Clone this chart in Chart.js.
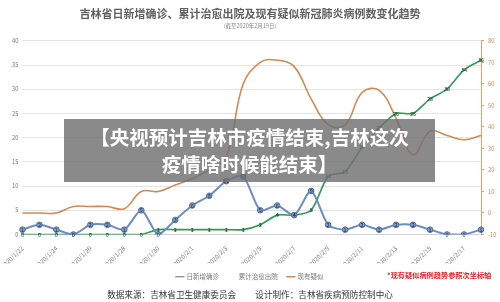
<!DOCTYPE html>
<html>
<head>
<meta charset="utf-8">
<script src="https://cdn.jsdelivr.net/npm/chart.js@4.4.0/dist/chart.umd.min.js"></script>
<style>
  html, body { margin: 0; padding: 0; background: #fff; }
  #wrap { position: relative; width: 500px; height: 302px; overflow: hidden; font-family: "Noto Sans CJK SC", sans-serif; }
  #note { position: absolute; left: 387px; top: 270px; font-size: 7.2px; font-weight: bold; color: #e0262b; white-space: nowrap; }
  #footer { position: absolute; left: 0; width: 500px; top: 288px; text-align: center; font-size: 8.6px; color: #333; white-space: nowrap; }
  #banner { position: absolute; left: 64px; top: 119px; width: 371px; height: 63px; background: rgba(112,112,112,0.82);
            color: #fff; font-weight: bold; font-size: 19.5px; line-height: 27px; text-align: center; padding-top: 4px; box-sizing: border-box; }
</style>
</head>
<body>
<div id="wrap">
  <canvas id="canvas-main" width="500" height="302"></canvas>
  <div id="banner">【央视预计吉林市疫情结束,吉林这次<br>疫情啥时候能结束】</div>
  <div id="note">*现有疑似病例趋势参照次坐标轴</div>
  <div id="footer">数据来源：吉林省卫生健康委员会&nbsp;&nbsp;&nbsp;&nbsp;&nbsp;&nbsp;&nbsp;&nbsp;&nbsp;&nbsp;设计制作：吉林省疾病预防控制中心</div>
</div>
<script>
const dates = ['2020/1/22', '2020/1/23', '2020/1/24', '2020/1/25', '2020/1/26', '2020/1/27', '2020/1/28',
               '2020/1/29', '2020/1/30', '2020/1/31', '2020/2/1', '2020/2/2', '2020/2/3', '2020/2/4',
               '2020/2/5', '2020/2/6', '2020/2/7', '2020/2/8', '2020/2/9', '2020/2/10', '2020/2/11',
               '2020/2/12', '2020/2/13', '2020/2/14', '2020/2/15', '2020/2/16', '2020/2/17', '2020/2/18'];
const newConfirmed = [1, 2, 1, 0, 2, 2, 1, 5, 0, 3, 6, 8, 11, 12, 5, 6, 4, 9, 2, 1, 2, 1, 2, 2, 1, 0, 0, 1];
const cured = [0, 0, 0, 0, 0, 0, 0, 0, 1, 1, 1, 1, 1, 1, 2, 4, 4, 5, 12, 13, 18, 22, 25, 25, 28, 30, 34, 36];
const suspected = [0, 0, 0, 3, 3, 3, 2, 10, 10, 13, 16, 20, 26, 60, 70, 71, 68, 53, 41, 41, 56, 57, 44, 27, 38, 36, 34, 36];
const seriesNames = ['日新增确诊', '累计治愈出院', '现有疑似'];

const FONT = '"Noto Sans CJK SC", sans-serif';

// draw the value on each blue / green point
const pointLabels = {
    id: 'pointLabels',
    afterDatasetsDraw(chart) {
        const ctx = chart.ctx;
        ctx.save();
        ctx.font = '5.5px ' + FONT;
        ctx.textAlign = 'center';
        ctx.textBaseline = 'middle';
        [0, 1].forEach(i => {
            const meta = chart.getDatasetMeta(i);
            ctx.fillStyle = i === 0 ? '#1d2c48' : '#2f3f35';
            meta.data.forEach((pt, j) => {
                ctx.fillText(chart.data.datasets[i].data[j], pt.x, pt.y);
            });
        });
        ctx.restore();
    }
};

const ctx = document.getElementById('canvas-main').getContext('2d');
const chart = new Chart(ctx, {
    type: 'line',
    data: {
        labels: dates,
        datasets: [{
            label: seriesNames[0],
            data: newConfirmed,
            yAxisID: 'y',
            borderColor: '#6c8dbd',
            backgroundColor: '#6c8dbd',
            borderWidth: 2,
            tension: 0.25,
            pointRadius: 2.8,
            pointBackgroundColor: '#7e9cc8',
            pointBorderColor: '#4d6c9c',
            pointBorderWidth: 1,
            order: 1
        }, {
            label: seriesNames[1],
            data: cured,
            yAxisID: 'y',
            borderColor: '#2f9a55',
            backgroundColor: '#2f9a55',
            borderWidth: 1.6,
            tension: 0.25,
            pointRadius: 1.4,
            pointBackgroundColor: '#2f9a55',
            pointBorderWidth: 0,
            order: 2
        }, {
            label: seriesNames[2],
            data: suspected,
            yAxisID: 'y1',
            borderColor: '#d08a55',
            backgroundColor: '#d08a55',
            borderWidth: 1.6,
            tension: 0.4,
            pointRadius: 0,
            order: 3
        }]
    },
    options: {
        responsive: false,
        animation: false,
        layout: { padding: { left: 0, right: 0, top: 0, bottom: 12 } },
        scales: {
            x: {
                afterFit: s => { s.height = 29; },
                grid: { display: false },
                border: { color: '#d0d0d0' },
                ticks: {
                    autoSkip: false,
                    maxRotation: 45,
                    minRotation: 45,
                    padding: 2,
                    color: '#777',
                    font: { size: 6.2, family: FONT },
                    callback: function(v, i) { return i % 2 === 0 ? this.getLabelForValue(v) : ''; }
                }
            },
            y: {
                position: 'left',
                min: 0,
                max: 40,
                afterFit: s => { s.width = 17; },
                border: { display: false },
                grid: { color: '#e3e3e3', drawTicks: false },
                ticks: { stepSize: 5, padding: 4, color: '#777', font: { size: 5.8, family: FONT } }
            },
            y1: {
                position: 'right',
                min: -10,
                max: 80,
                afterFit: s => { s.width = 19; },
                border: { color: '#e0a070', width: 1, dash: [2, 1] },
                grid: { drawOnChartArea: false, color: '#e0a070', tickLength: 3 },
                ticks: { stepSize: 10, padding: 4, color: '#d08a55', font: { size: 5.8, family: FONT } }
            }
        },
        plugins: {
            title: {
                display: true,
                text: '吉林省日新增确诊、累计治愈出院及现有疑似新冠肺炎病例数变化趋势',
                color: '#606060',
                font: { size: 11, weight: 'bold', family: FONT },
                padding: { top: 7, bottom: 2 }
            },
            subtitle: {
                display: true,
                text: '(截至2020年2月19日)',
                color: '#888',
                font: { size: 5.5, family: FONT },
                padding: { bottom: 12 }
            },
            legend: {
                position: 'bottom',
                labels: {
                    usePointStyle: true,
                    pointStyle: 'line',
                    boxWidth: 17,
                    padding: 10,
                    color: '#777',
                    font: { size: 6.5, family: FONT }
                }
            },
            tooltip: { enabled: false }
        }
    },
    plugins: [pointLabels]
});
</script>
</body>
</html>
